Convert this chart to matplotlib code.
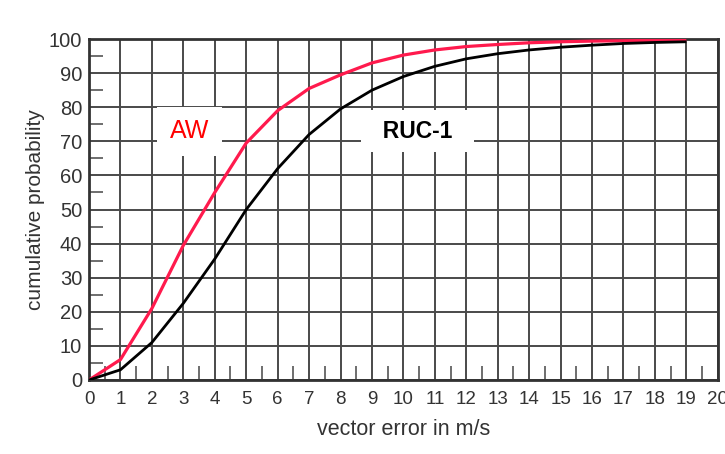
import numpy as np
import matplotlib.pyplot as plt
from matplotlib.ticker import MultipleLocator

plt.rcParams['font.family'] = ['Liberation Sans', 'DejaVu Sans']

# cumulative probability (%) of vector error, per 1 m/s bin
error_ms = [0, 1, 2, 3, 4, 5, 6, 7, 8, 9, 10, 11, 12, 13, 14, 15, 16, 17, 18, 19]
aw_cum = [0, 6, 21, 39.5, 55, 69.5, 79, 85.5, 89.5, 93, 95.3, 96.8, 97.8, 98.4, 98.9,
          99.2, 99.4, 99.5, 99.6, 99.7]
ruc_cum = [0, 3, 11, 22.5, 35.5, 50, 62, 72, 79.5, 85, 89, 92, 94.2, 95.7, 96.8,
           97.6, 98.2, 98.7, 99.0, 99.2]

fig = plt.figure(figsize=(7.25, 4.54), dpi=100)
ax = fig.add_axes([0.1228, 0.163, 0.8672, 0.751])

ax.plot(error_ms, aw_cum, color='#ff1a4d', lw=2.3, zorder=3, solid_capstyle='butt')
ax.plot(error_ms, ruc_cum, color='black', lw=2.0, zorder=3, solid_capstyle='butt')

ax.set_xlim(0, 20)
ax.set_ylim(0, 100)
ax.xaxis.set_major_locator(MultipleLocator(1))
ax.yaxis.set_major_locator(MultipleLocator(10))
ax.xaxis.set_minor_locator(MultipleLocator(0.5))
ax.yaxis.set_minor_locator(MultipleLocator(5))

ax.grid(True, which='major', color='#4a4a4a', lw=1.4)
ax.tick_params(which='major', length=0, colors='#333333')
ax.tick_params(axis='x', pad=8, labelsize=13.5)
ax.tick_params(axis='y', pad=5, labelsize=14.5)
ax.tick_params(which='minor', direction='in', length=10, width=1.2, color='#555555')
for s in ax.spines.values():
    s.set_color('#333333')
    s.set_linewidth(2)

ax.set_xlabel('vector error in m/s', fontsize=15.5, color='#333333', labelpad=8)
ax.set_ylabel('cumulative probability', fontsize=15, color='#333333', labelpad=3)

# curve labels on white boxes
ax.text(3.2, 73, 'AW', color='#ff0000', fontsize=18, ha='center', va='center', zorder=4,
        bbox=dict(facecolor='white', edgecolor='none', boxstyle='square,pad=0.5'))
ax.text(10.45, 73, '  RUC-1  ', color='black', fontsize=16.5, fontweight='bold', ha='center',
        va='center', zorder=4,
        bbox=dict(facecolor='white', edgecolor='none', boxstyle='square,pad=0.4'))

fig.savefig('out.png', dpi=100)
